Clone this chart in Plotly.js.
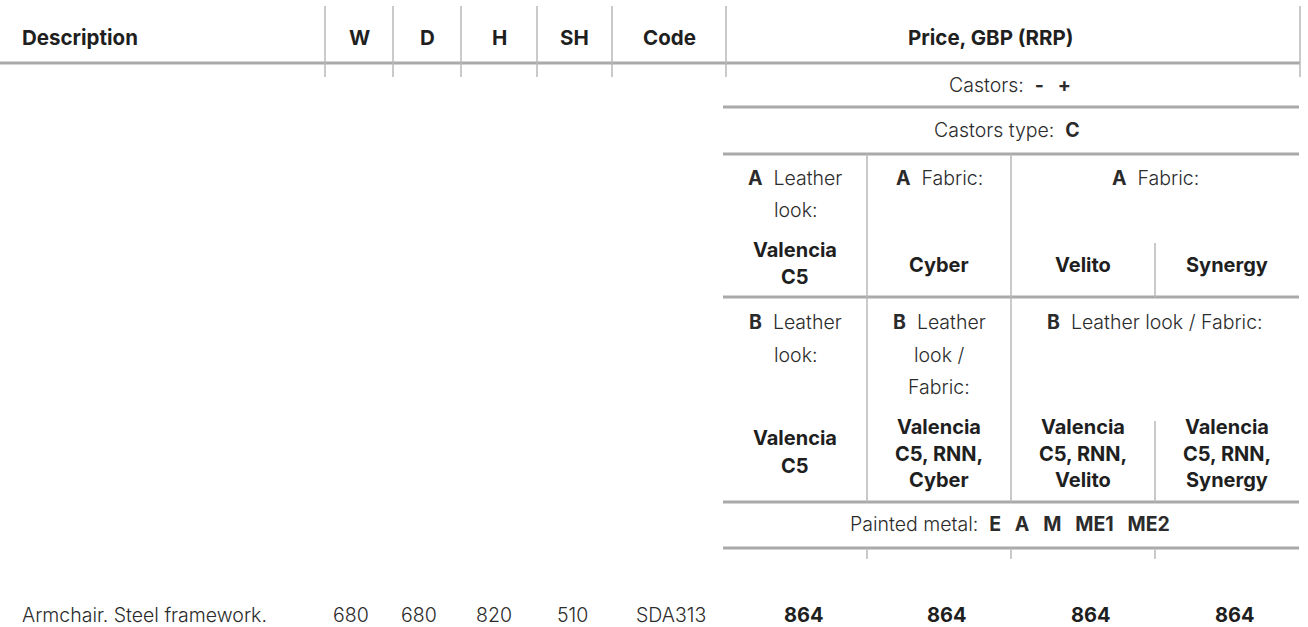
<!DOCTYPE html>
<html>
<head>
<meta charset="utf-8">
<script src="https://cdn.plot.ly/plotly-3.0.1.min.js"></script>
<style>html,body{margin:0;padding:0;background:#fff;}#chart{width:1308px;height:627px;}</style>
</head>
<body>
<div id="chart"></div>
<script>
// ---- data ----
var headerLabels = ["W", "D", "H", "SH", "Code"];
var descHeader = "Description";
var priceHeader = "Price, GBP (RRP)";
var castorsLabel = "Castors:";
var castorsValues = ["-", "+"];
var castorsTypeLabel = "Castors type:";
var castorsTypeValues = ["C"];
var groupA = ["Leather<br>look:", "Fabric:", "Fabric:"];
var groupALetter = "A";
var materialsA = ["Valencia<br>C5", "Cyber", "Velito", "Synergy"];
var groupB = ["Leather<br>look:", "Leather<br>look /<br>Fabric:", "Leather look / Fabric:"];
var groupBLetter = "B";
var materialsB = ["Valencia<br>C5", "Valencia<br>C5, RNN,<br>Cyber", "Valencia<br>C5, RNN,<br>Velito", "Valencia<br>C5, RNN,<br>Synergy"];
var paintedLabel = "Painted metal:";
var paintedValues = ["E", "A", "M", "ME1", "ME2"];
var productName = "Armchair. Steel framework.";
var productDims = ["680", "680", "820", "510", "SDA313"];
var productPrices = [864, 864, 864, 864];

// ---- layout geometry ----
var colEdges = [325, 393, 461, 537, 612, 726, 1300];
var headerCenters = [359, 427, 499, 574, 669];
var dimCenters = [351, 419, 494, 572, 671];
var priceCenters = [795, 939, 1083, 1227];
var priceValueCenters = [804, 947, 1091, 1235];

var lineCol = "#a9a9a9";
var vCol = "#b8b8b8";
var shapes = [];
function hline(x0, x1, y, w) {
  shapes.push({type: "line", xref: "x", yref: "y", x0: x0, x1: x1, y0: y, y1: y, line: {color: lineCol, width: w || 3}});
}
function vline(x, y0, y1) {
  shapes.push({type: "line", xref: "x", yref: "y", x0: x, x1: x, y0: y0, y1: y1, line: {color: vCol, width: 1.5}});
}
hline(0, 1300, 63);
colEdges.forEach(function (x) { vline(x, 6, 77); });
hline(723, 1299, 107);
hline(723, 1299, 154);
hline(723, 1299, 297);
hline(723, 1299, 502);
hline(723, 1299, 548);
vline(867, 154, 502);
vline(1011, 154, 502);
vline(1155, 243, 297);
vline(1155, 421, 502);
[867, 1011, 1155].forEach(function (x) { vline(x, 548, 559); });

var SP = "\u00a0\u00a0";
var SP3 = "\u00a0\u00a0\u00a0";
var ann = [];
var baseFont = {family: "Inter, 'Open Sans', sans-serif", size: 19.5, color: "#2b2b2b", weight: 300};
function txt(x, y, t, opts) {
  opts = opts || {};
  ann.push({
    xref: "x", yref: "y", x: x, y: y, text: t, showarrow: false,
    xanchor: opts.anchor || "center", yanchor: "middle", align: opts.align || "center",
    font: Object.assign({}, baseFont, opts.font || {})
  });
}
var boldFont = {weight: 700, color: "#1f1f1f", size: 20};
var headFont = {weight: 700, color: "#1f1f1f", size: 20.5};

// header
txt(20, 37, descHeader, {anchor: "left", font: headFont});
headerLabels.forEach(function (h, i) { txt(headerCenters[i], 37, h, {font: headFont}); });
txt(990, 37, priceHeader, {font: headFont});

// castors rows
txt(1010, 85, castorsLabel + SP + "<b>" + castorsValues.join(SP3) + "</b>");
txt(1007, 130, castorsTypeLabel + SP + "<b>" + castorsTypeValues.join(SP3) + "</b>");

// group A
function groupLabel(letter, label) {
  var parts = label.split("<br>");
  parts[0] = "<b>" + letter + "</b>" + SP + parts[0];
  return parts;
}
function stacked(x, yStart, lines, step, opts) {
  lines.forEach(function (l, i) { txt(x, yStart + i * step, l, opts); });
}
var aCenters = [795, 939, 1155];
groupA.forEach(function (g, i) { stacked(aCenters[i], 178, groupLabel(groupALetter, g), 32); });
stacked(priceCenters[0], 250, materialsA[0].split("<br>"), 27, {font: boldFont});
txt(priceCenters[1], 265, materialsA[1], {font: boldFont});
txt(priceCenters[2], 265, materialsA[2], {font: boldFont});
txt(priceCenters[3], 265, materialsA[3], {font: boldFont});

// group B
groupB.forEach(function (g, i) { stacked(aCenters[i], 322, groupLabel(groupBLetter, g), 32.5); });
stacked(priceCenters[0], 438, materialsB[0].split("<br>"), 28, {font: boldFont});
for (var k = 1; k < 4; k++) {
  stacked(priceCenters[k], 427, materialsB[k].split("<br>"), 26.5, {font: boldFont});
}

// painted metal
txt(1010, 524, paintedLabel + SP + "<b>" + paintedValues.join(SP3) + "</b>");

// product row
txt(20, 615, productName, {anchor: "left"});
productDims.forEach(function (d, i) { txt(dimCenters[i], 615, d); });
productPrices.forEach(function (p, i) { txt(priceValueCenters[i], 615, String(p), {font: boldFont}); });

var layout = {
  width: 1308, height: 627,
  margin: {l: 0, r: 0, t: 0, b: 0},
  paper_bgcolor: "#ffffff", plot_bgcolor: "#ffffff",
  xaxis: {range: [0, 1308], visible: false, fixedrange: true},
  yaxis: {range: [627, 0], visible: false, fixedrange: true},
  showlegend: false,
  shapes: shapes,
  annotations: ann
};
Plotly.newPlot("chart", [{x: [], y: [], type: "scatter", mode: "markers", hoverinfo: "skip"}], layout, {staticPlot: true, displayModeBar: false});
</script>
</body>
</html>
